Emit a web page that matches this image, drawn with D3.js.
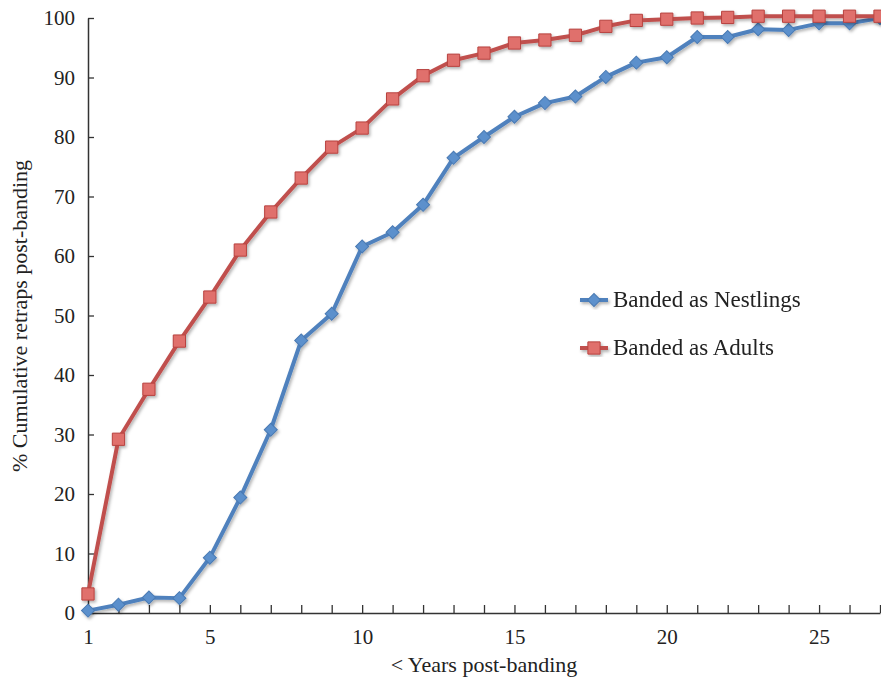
<!DOCTYPE html>
<html>
<head>
<meta charset="utf-8">
<script src="https://cdn.jsdelivr.net/npm/d3@7"></script>
</head>
<body style="margin:0">
<svg id="chart" width="881" height="684" font-family="Liberation Serif"></svg>
<script>
const years = d3.range(1, 28);
const nestlings = [0.4, 1.4, 2.6, 2.5, 9.3, 19.4, 30.8, 45.8, 50.3, 61.6, 64.0, 68.6, 76.5, 80.0, 83.4,
                   85.7, 86.8, 90.1, 92.5, 93.4, 96.8, 96.8, 98.1, 98.0, 99.1, 99.1, 100];
const adults = [3.2, 29.2, 37.6, 45.7, 53.1, 61.0, 67.4, 73.1, 78.3, 81.5, 86.4, 90.3, 92.9, 94.1, 95.8,
                96.3, 97.1, 98.6, 99.6, 99.8, 100, 100.1, 100.3, 100.3, 100.3, 100.3, 100.3];
const xLabels = [1, 5, 10, 15, 20, 25];
const yTicks = d3.range(0, 101, 10);

const series = [
  { name: "Banded as Nestlings", values: nestlings, line: "#4f81bd", fill: "#5b90cc", stroke: "#4a7ab3", shape: d3.symbolSquare, size: 85, rot: 45 },
  { name: "Banded as Adults", values: adults, line: "#c0504d", fill: "#e0706c", stroke: "#b8423f", shape: d3.symbolSquare, size: 150, rot: 0 }
];

const svg = d3.select("#chart");

const defs = svg.append("defs");
defs.append("filter").attr("id", "shadow")
  .attr("x", "-20%").attr("y", "-20%").attr("width", "140%").attr("height", "140%")
  .append("feDropShadow")
  .attr("dx", 1.5).attr("dy", 2).attr("stdDeviation", 1.5)
  .attr("flood-color", "#000").attr("flood-opacity", 0.3);

const x = d3.scaleLinear().domain([1, 27]).range([88, 880]);
const y = d3.scaleLinear().domain([0, 100]).range([613, 18]);

// y axis
const yAxis = svg.append("g")
  .attr("transform", `translate(${x(1)},0)`)
  .call(d3.axisLeft(y).tickValues(yTicks).tickSizeInner(-6).tickSizeOuter(0).tickPadding(13));
yAxis.attr("font-family", "Liberation Serif").attr("font-size", 21);
yAxis.select(".domain").attr("stroke", "#333").attr("stroke-width", 1.5);
yAxis.selectAll(".tick line").attr("stroke", "#333").attr("stroke-width", 1.3);
yAxis.selectAll(".tick text").attr("fill", "#222");

// x axis
const xAxis = svg.append("g")
  .attr("transform", `translate(0,${y(0)})`)
  .call(d3.axisBottom(x).tickValues(years).tickSizeInner(-8).tickSizeOuter(0).tickPadding(16)
    .tickFormat(d => xLabels.includes(d) ? d : ""));
xAxis.attr("font-family", "Liberation Serif").attr("font-size", 21);
xAxis.select(".domain").attr("stroke", "#333").attr("stroke-width", 1.5);
xAxis.selectAll(".tick line").attr("stroke", "#333").attr("stroke-width", 1.3);
xAxis.selectAll(".tick text").attr("fill", "#222");

// axis titles
svg.append("text")
  .attr("x", 484).attr("y", 672)
  .attr("text-anchor", "middle").attr("fill", "#222")
  .attr("font-family", "Liberation Serif").attr("font-size", 22)
  .text("< Years post-banding");
svg.append("text")
  .attr("transform", "translate(27,316) rotate(-90)")
  .attr("text-anchor", "middle").attr("fill", "#222")
  .attr("font-family", "Liberation Serif").attr("font-size", 22)
  .text("% Cumulative retraps post-banding");

const line = d3.line().x((d, i) => x(years[i])).y(d => y(d));

series.forEach(s => {
  const g = svg.append("g").attr("filter", "url(#shadow)");
  g.append("path")
    .attr("d", line(s.values))
    .attr("fill", "none")
    .attr("stroke", s.line)
    .attr("stroke-width", 4)
    .attr("stroke-linejoin", "round");
  g.selectAll("path.pt")
    .data(s.values)
    .enter().append("path")
    .attr("class", "pt")
    .attr("d", d3.symbol().type(s.shape).size(s.size))
    .attr("transform", (d, i) => `translate(${x(years[i])},${y(d)}) rotate(${s.rot})`)
    .attr("fill", s.fill)
    .attr("stroke", s.stroke)
    .attr("stroke-width", 1);
});

// legend
const legend = svg.append("g").attr("transform", "translate(580,300)");
series.forEach((s, i) => {
  const row = legend.append("g").attr("transform", `translate(0,${i * 48})`);
  const gl = row.append("g").attr("filter", "url(#shadow)");
  gl.append("line")
    .attr("x1", 0).attr("x2", 28).attr("y1", 0).attr("y2", 0)
    .attr("stroke", s.line).attr("stroke-width", 4);
  gl.append("path")
    .attr("d", d3.symbol().type(s.shape).size(s.size))
    .attr("transform", `translate(14,0) rotate(${s.rot})`)
    .attr("fill", s.fill).attr("stroke", s.stroke).attr("stroke-width", 1);
  row.append("text")
    .attr("x", 33).attr("y", 7).attr("fill", "#222")
    .style("font-family", `"Liberation Serif"`).attr("font-size", 23)
    .text(s.name);
});
</script>
</body>
</html>
